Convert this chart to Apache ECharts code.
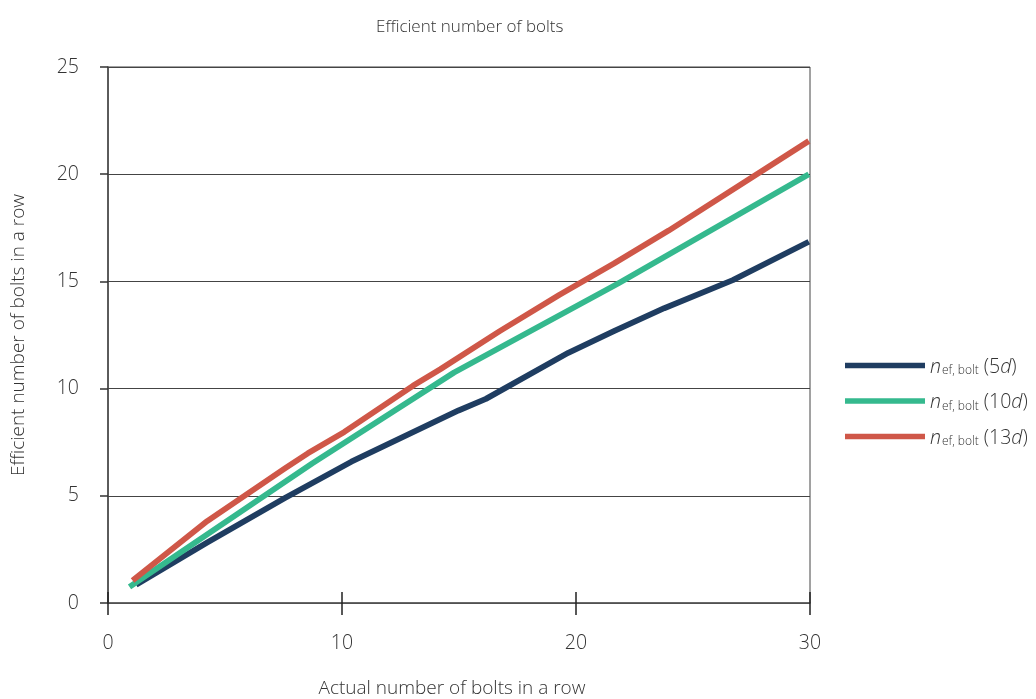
<!DOCTYPE html>
<html>
<head>
<meta charset="utf-8">
<script src="https://cdn.jsdelivr.net/npm/echarts@6/dist/echarts.min.js"></script>
<style>html,body{margin:0;padding:0;background:#fff}#c{width:1036px;height:699px}</style>
</head>
<body>
<div id="c"></div>
<script>
// Data
const x5d  = [1.2, 4.24, 7.56, 10.4, 14.98, 16.15, 19.67, 21.62, 23.77, 26.7, 29.95];
const y5d  = [0.85, 2.82, 4.9, 6.59, 8.98, 9.52, 11.67, 12.68, 13.75, 15.06, 16.85];
const x10d = [0.92, 8.73, 14.79, 21.8, 29.95];
const y10d = [0.75, 6.51, 10.75, 14.9, 20.0];
const x13d = [1.05, 4.24, 7.56, 8.54, 10.1, 13.03, 14.2, 16.74, 19.28, 21.62, 23.96, 29.95];
const y13d = [1.05, 3.82, 6.28, 6.98, 7.98, 10.13, 10.9, 12.68, 14.37, 15.83, 17.37, 21.55];
const seriesLabels = ['(5', '(10', '(13'];
const seriesNames = ['5d', '10d', '13d'];
const xTicks = [0, 10, 20, 30];
const yTicks = [0, 5, 10, 15, 20, 25];

const FONT = '"Open Sans", "Noto Sans", sans-serif';
const TXT = '#333';
const W = 300;
function pairs(xs, ys) { return xs.map((x, i) => [x, ys[i]]); }

const chart = echarts.init(document.getElementById('c'), null, {renderer: 'canvas'});
const colors = ['#1f3d61', '#35b98e', '#cf5748'];
const dataSets = [pairs(x5d, y5d), pairs(x10d, y10d), pairs(x13d, y13d)];

chart.setOption({
  animation: false,
  backgroundColor: '#fff',
  textStyle: {fontFamily: FONT},
  title: {
    text: 'Efficient number of bolts',
    left: 371, top: 14,
    textStyle: {fontFamily: FONT, fontSize: 17, fontWeight: W, color: TXT}
  },
  grid: {left: 108, right: 226, top: 67, bottom: 96, show: true, borderColor: '#444', borderWidth: 1,
    backgroundColor: 'transparent', containLabel: false, outerBoundsMode: 'none'},
  legend: {
    orient: 'vertical', left: 840, top: 349,
    icon: 'rect', itemWidth: 80, itemHeight: 5.5, itemGap: 12.5,
    data: seriesNames,
    formatter: function (name) {
      const i = seriesNames.indexOf(name);
      return '{i|n}{sub|ef, bolt} {n|' + seriesLabels[i] + '}{i|d}{n|)}';
    },
    textStyle: {
      fontFamily: FONT, color: TXT, fontSize: 19, fontWeight: W,
      rich: {
        i: {fontFamily: FONT, fontStyle: 'italic', fontSize: 19.5, fontWeight: W, color: TXT, lineHeight: 23, verticalAlign: 'bottom'},
        n: {fontFamily: FONT, fontSize: 19.5, fontWeight: W, color: TXT, lineHeight: 23, verticalAlign: 'bottom'},
        sub: {fontFamily: FONT, fontSize: 12, fontWeight: W, color: TXT, lineHeight: 23, verticalAlign: 'bottom', padding: [11, 0, 0, 1]}
      }
    }
  },
  xAxis: [{
    type: 'value', min: 0, max: 30, interval: 10,
    name: 'Actual number of bolts in a row', nameLocation: 'middle', nameGap: 76,
    nameTextStyle: {fontFamily: FONT, fontSize: 19, fontWeight: W, color: TXT, padding: [0, 14, 0, 0]},
    axisLine: {show: true, lineStyle: {color: '#555', width: 1.5}},
    axisTick: {show: true, inside: true, length: 11, lineStyle: {color: '#222', width: 1.5}},
    axisLabel: {margin: 30, fontFamily: FONT, fontSize: 19.5, fontWeight: W, color: TXT,
      formatter: v => xTicks.indexOf(v) >= 0 ? String(v) : ''},
    splitLine: {show: false}
  }, {
    type: 'value', min: 0, max: 30, interval: 10, position: 'bottom',
    axisLine: {show: false},
    axisTick: {show: true, inside: false, length: 12, lineStyle: {color: '#222', width: 1.5}},
    axisLabel: {show: false},
    splitLine: {show: false}
  }],
  yAxis: {
    type: 'value', min: 0, max: 25, interval: 5,
    name: 'Efficient number of bolts in a row', nameLocation: 'middle', nameGap: 80,
    nameTextStyle: {fontFamily: FONT, fontSize: 19, fontWeight: W, color: TXT},
    axisLine: {show: true, lineStyle: {color: '#444', width: 1.5}},
    axisTick: {show: true, inside: false, length: 8, lineStyle: {color: '#333', width: 1.5}},
    axisLabel: {margin: 29, fontFamily: FONT, fontSize: 19.5, fontWeight: W, color: TXT,
      formatter: v => yTicks.indexOf(v) >= 0 ? String(v) : ''},
    splitLine: {show: true, lineStyle: {color: '#444', width: 1}}
  },
  series: seriesNames.map((n, i) => ({
    name: n, type: 'line', data: dataSets[i],
    showSymbol: false, symbol: 'none',
    lineStyle: {color: colors[i], width: 5.8, cap: 'butt', join: 'round'},
    itemStyle: {color: colors[i]},
    z: 3 + i
  }))
});
</script>
</body>
</html>
